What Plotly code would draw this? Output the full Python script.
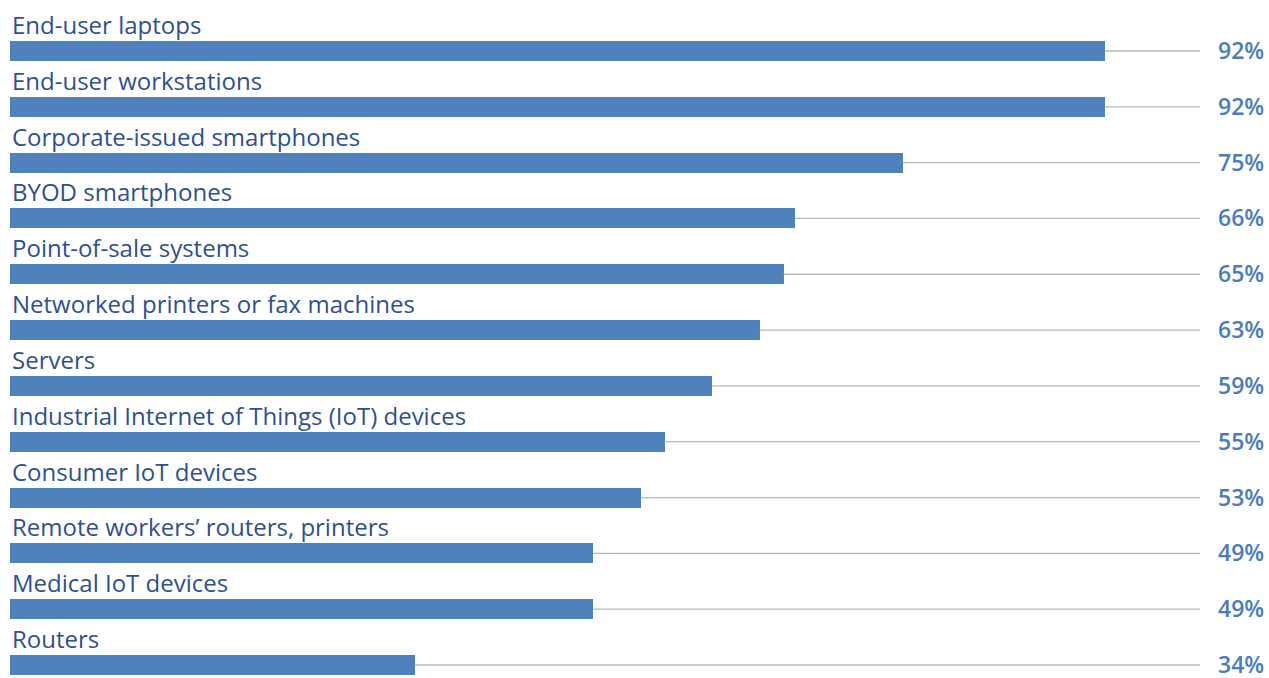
import plotly.graph_objects as go

# Share of organisations reporting each device type
categories = [
    "End-user laptops",
    "End-user workstations",
    "Corporate-issued smartphones",
    "BYOD smartphones",
    "Point-of-sale systems",
    "Networked printers or fax machines",
    "Servers",
    "Industrial Internet of Things (IoT) devices",
    "Consumer IoT devices",
    "Remote workers\u2019 routers, printers",
    "Medical IoT devices",
    "Routers",
]
values = [92, 92, 75, 66, 65, 63, 59, 55, 53, 49, 49, 34]

BAR_BLUE = "#4f81bd"
LABEL_BLUE = "#2f4f93"
PCT_BLUE = "#4a7cc0"
LINE_GREY = "#b8b8b8"
FONT = "Open Sans"

rows = list(range(len(categories)))

fig = go.Figure()

# thin leader line from each bar's end out to the 100% mark
lx, ly = [], []
for i, v in zip(rows, values):
    lx += [v, 100, None]
    ly += [i, i, None]
fig.add_trace(go.Scatter(
    x=lx, y=ly, mode="lines",
    line=dict(color=LINE_GREY, width=1.3),
    hoverinfo="skip", showlegend=False,
))

fig.add_trace(go.Bar(
    x=values, y=rows, orientation="h",
    width=0.358,
    marker=dict(color=BAR_BLUE, line=dict(width=0)),
    showlegend=False,
    hovertemplate="%{customdata}: %{x}%<extra></extra>",
    customdata=categories,
))

annotations = []
for i, (c, v) in enumerate(zip(categories, values)):
    annotations.append(dict(
        x=0, y=i, xref="x", yref="y",
        text=c, showarrow=False,
        xanchor="left", yanchor="bottom",
        xshift=0, yshift=8,
        font=dict(family=FONT, size=24, color=LABEL_BLUE),
    ))
    annotations.append(dict(
        x=1.0555, y=i, xref="paper", yref="y",
        text=f"{v}%", showarrow=False,
        xanchor="right", yanchor="middle",
        height=20, valign="middle", yshift=1,
        font=dict(family=FONT, size=23, color=PCT_BLUE, weight=600),
    ))

fig.update_layout(
    width=1269, height=678,
    margin=dict(l=10, r=69, t=0, b=0),
    paper_bgcolor="white", plot_bgcolor="white",
    bargap=0,
    xaxis=dict(range=[0, 100], visible=False, fixedrange=True),
    yaxis=dict(range=[11.233, -0.9137], visible=False, fixedrange=True),
    annotations=annotations,
)

fig.write_html("out.html")
